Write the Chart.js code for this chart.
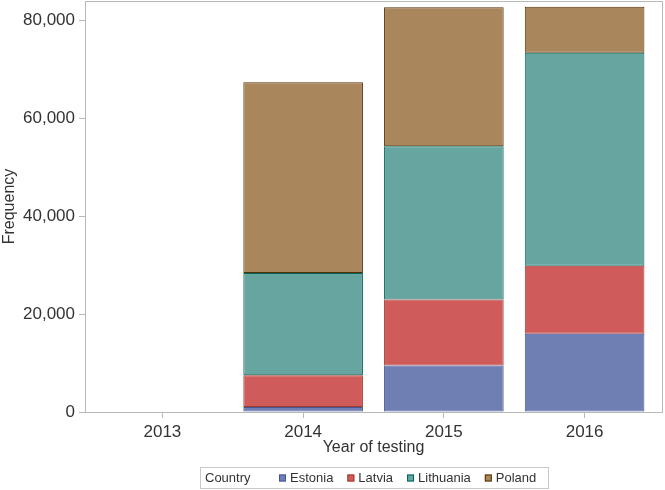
<!DOCTYPE html>
<html>
<head>
<meta charset="utf-8">
<script src="https://cdn.jsdelivr.net/npm/chart.js@4"></script>
<style>
  body { margin: 0; background: #fff; }
</style>
</head>
<body>
<canvas id="chart" width="665" height="490"></canvas>
<script>
// data (segment sizes, stacked)
const years = [2013, 2014, 2015, 2016];
const countries = ['Estonia', 'Latvia', 'Lithuania', 'Poland'];
const estonia = [null, 1000, 9500, 16000];
const latvia = [null, 6500, 13500, 13900];
const lithuania = [null, 20900, 31300, 43500];
const poland = [null, 39000, 28400, 9400];
const yTicks = [0, 20000, 40000, 60000, 80000];

const fills = ['#6f7eb3', '#d05b5b', '#66a5a0', '#a9865b'];
const lines = ['#445694', '#a23a2e', '#01665e', '#543005'];
const axisColor = '#b9b9b9';
const textColor = '#333333';
const fontFamily = '"Liberation Sans", Arial, sans-serif';

const series = [estonia, latvia, lithuania, poland];

const datasets = series.map((vals, i) => ({
    label: countries[i],
    data: years.map((yr, j) => ({ x: yr, y: vals[j] })),
    backgroundColor: fills[i],
    borderColor: lines[i],
    borderWidth: 1,
    borderSkipped: false,
    barPercentage: 0.85,
    categoryPercentage: 1
}));

// box around the plot area
const framePlugin = {
    id: 'frame',
    afterDraw(chart) {
        const { ctx, chartArea: a } = chart;
        ctx.save();
        ctx.strokeStyle = axisColor;
        ctx.lineWidth = 1;
        ctx.strokeRect(Math.round(a.left) + 0.5, Math.round(a.top) + 0.5,
            Math.round(a.right - a.left), Math.round(a.bottom - a.top));
        ctx.restore();
    }
};

// SAS style legend: "Country" then swatches in one bordered row
const legendPlugin = {
    id: 'sasLegend',
    afterDraw(chart) {
        const ctx = chart.ctx;
        ctx.save();
        ctx.strokeStyle = '#c8c8c8';
        ctx.lineWidth = 1;
        ctx.strokeRect(200.5, 467.5, 348, 21);
        ctx.font = '13px ' + fontFamily;
        ctx.fillStyle = textColor;
        ctx.textBaseline = 'middle';
        const cy = 478;
        ctx.fillText('Country', 205, cy);
        let x = 279;
        chart.data.datasets.forEach(ds => {
            ctx.fillStyle = ds.backgroundColor;
            ctx.fillRect(x, cy - 3.5, 7, 7);
            ctx.strokeStyle = ds.borderColor;
            ctx.strokeRect(x + 0.5, cy - 3, 6, 6);
            ctx.fillStyle = textColor;
            ctx.fillText(ds.label, x + 11, cy);
            x += 11 + ctx.measureText(ds.label).width + 14;
        });
        ctx.restore();
    }
};

new Chart(document.getElementById('chart'), {
    type: 'bar',
    data: { datasets },
    options: {
        responsive: false,
        animation: false,
        layout: { padding: { top: 1, right: 3, left: 0, bottom: 0 } },
        plugins: {
            legend: { display: false },
            tooltip: { enabled: false }
        },
        scales: {
            x: {
                type: 'linear',
                stacked: true,
                offset: false,
                min: 2012.45,
                max: 2016.55,
                afterBuildTicks: s => { s.ticks = years.map(v => ({ value: v })); },
                afterFit: s => {
                    s.height = 78;
                    s.paddingLeft = 0;
                    s.paddingRight = 0;
                },
                grid: { drawOnChartArea: false, offset: false, tickLength: 6, color: axisColor },
                border: { color: axisColor },
                ticks: {
                    padding: 4,
                    color: textColor,
                    font: { family: fontFamily, size: 17 },
                    callback: v => String(v)
                },
                title: {
                    display: true,
                    text: 'Year of testing',
                    color: textColor,
                    font: { family: fontFamily, size: 16 },
                    padding: { top: 0, bottom: 33 }
                }
            },
            y: {
                stacked: true,
                min: 0,
                max: 84000,
                afterBuildTicks: s => { s.ticks = yTicks.map(v => ({ value: v })); },
                afterFit: s => {
                    s.width = 85;
                    s.paddingTop = 0;
                    s.paddingBottom = 0;
                },
                grid: { drawOnChartArea: false, tickLength: 6, color: axisColor },
                border: { color: axisColor },
                ticks: {
                    padding: 4,
                    color: textColor,
                    font: { family: fontFamily, size: 17 },
                    callback: v => v.toLocaleString('en-US')
                },
                title: {
                    display: true,
                    text: 'Frequency',
                    color: textColor,
                    font: { family: fontFamily, size: 16 },
                    padding: { top: 0, bottom: 0 }
                }
            }
        }
    },
    plugins: [framePlugin, legendPlugin]
});
</script>
</body>
</html>
